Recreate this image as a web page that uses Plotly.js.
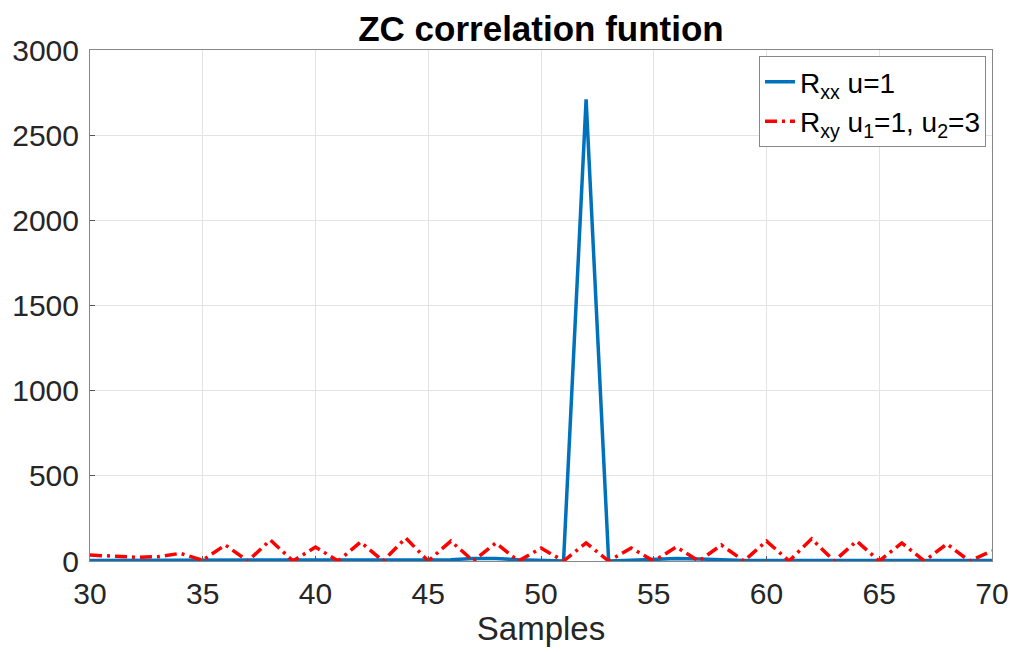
<!DOCTYPE html>
<html>
<head>
<meta charset="utf-8">
<script src="https://cdn.plot.ly/plotly-3.0.1.min.js"></script>
<style>html,body{margin:0;padding:0;background:#fff;}#chart{width:1013px;height:652px;}</style>
</head>
<body>
<div id="chart"></div>
<script>
const samples = [30,31,32,33,34,35,36,37,38,39,40,41,42,43,44,45,46,47,48,49,50,51,52,53,54,55,56,57,58,59,60,61,62,63,64,65,66,67,68,69,70];
const rxx = [3,3,3,3,3,3,3,3,3,3,3,3,3,3,4,5,8,14,15,7,4,0,2710,0,5,10,14,12,6,3,3,3,3,3,3,3,3,3,3,3,3];
const rxy = [35,30,22,25,45,5,94,0,123,0,82,0,111,0,135,0,117,0,106,0,76,0,106,0,76,0,82,0,94,0,117,0,130,0,117,0,106,0,100,0,59];
const xTicks = [30,35,40,45,50,55,60,65,70];
const yTicks = [0,500,1000,1500,2000,2500,3000];

const font = "Liberation Sans, Arial, Helvetica, sans-serif";
const traces = [
  {x: samples, y: rxx, type: 'scatter', mode: 'lines', name: 'R<sub>xx</sub> u=1',
   line: {color: '#0072BD', width: 3.5}},
  {x: samples, y: rxy, type: 'scatter', mode: 'lines', name: 'R<sub>xy</sub> u<sub>1</sub>=1, u<sub>2</sub>=3',
   line: {color: '#FF0000', width: 3.5, dash: '12px,5px,3px,5px'}}
];
const axisCommon = {
  showline: true, mirror: true, linecolor: '#888', linewidth: 1,
  showgrid: true, gridcolor: '#e3e3e3', gridwidth: 1,
  ticks: 'inside', ticklen: 5, tickcolor: '#555',
  tickfont: {family: font, size: 30, color: '#262626'},
  zeroline: false
};
const layout = {
  width: 1013, height: 652,
  margin: {l: 90, r: 21, t: 50, b: 91},
  paper_bgcolor: '#fff', plot_bgcolor: '#fff',
  title: {text: '<b>ZC correlation funtion</b>', font: {family: font, size: 35, color: '#000'},
          x: 0.5, xanchor: 'center', xref: 'paper', y: 1, yref: 'paper', yanchor: 'bottom',
          pad: {b: 9}},
  xaxis: Object.assign({}, axisCommon, {range: [30, 70], tickvals: xTicks, ticklabelstandoff: 6,
          title: {text: 'Samples', font: {family: font, size: 33, color: '#262626'}, standoff: 2}}),
  yaxis: Object.assign({}, axisCommon, {range: [0, 3000], tickvals: yTicks, ticklabelstandoff: 4}),
  showlegend: true,
  legend: {x: 0.7417, y: 0.988, xanchor: 'left', yanchor: 'top',
           bgcolor: '#fff', bordercolor: '#888', borderwidth: 1,
           font: {family: font, size: 28, color: '#000'}, tracegroupgap: 0}
};
Plotly.newPlot('chart', traces, layout, {displayModeBar: false, staticPlot: true});
</script>
</body>
</html>
